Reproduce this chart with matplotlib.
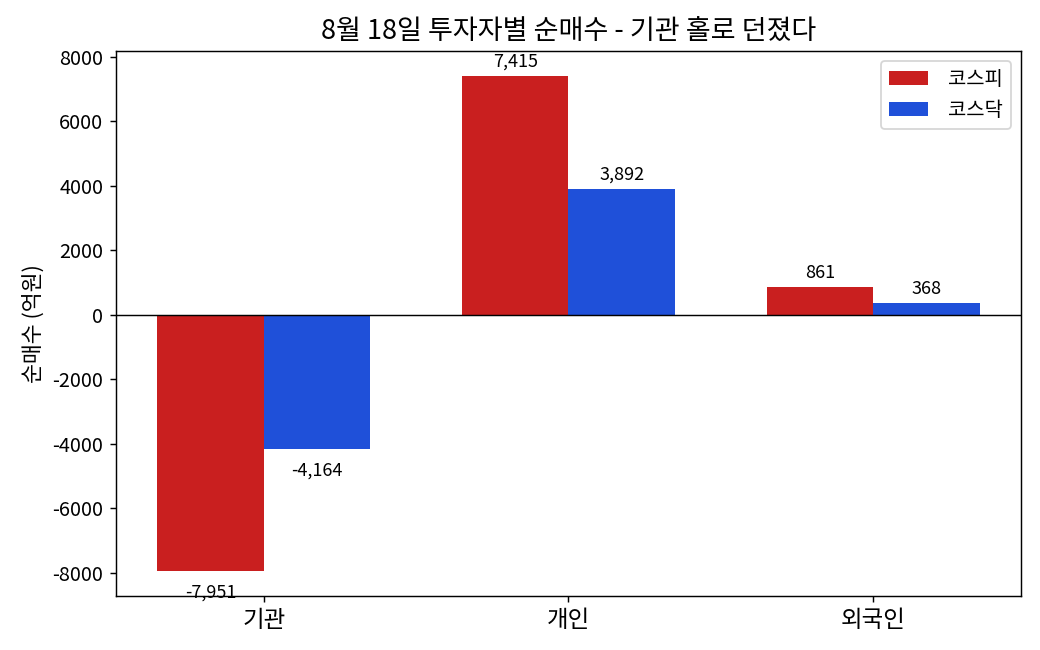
import matplotlib
matplotlib.use("Agg")
import matplotlib.pyplot as plt
import numpy as np

plt.rcParams['font.family'] = ['Noto Sans CJK KR', 'DejaVu Sans']
plt.rcParams['axes.unicode_minus'] = False

investors = ['기관', '개인', '외국인']
kospi = [-7951, 7415, 861]
kosdaq = [-4164, 3892, 368]

x = np.arange(len(investors))
width = 0.35

fig, ax = plt.subplots(figsize=(8, 5), dpi=130)
bars1 = ax.bar(x - width / 2, kospi, width, label='코스피', color='#c91f1f')
bars2 = ax.bar(x + width / 2, kosdaq, width, label='코스닥', color='#1f50d9')

ax.axhline(0, color='black', linewidth=0.8)

for bars in (bars1, bars2):
    for b in bars:
        h = b.get_height()
        ax.annotate(f'{h:,}', xy=(b.get_x() + b.get_width() / 2, h),
                    xytext=(0, 3 if h > 0 else -17), textcoords='offset points',
                    ha='center', va='bottom', fontsize=10)

ax.set_title('8월 18일 투자자별 순매수 - 기관 홀로 던졌다', fontsize=15)
ax.set_ylabel('순매수 (억원)', fontsize=12)
ax.set_xticks(x)
ax.set_xticklabels(investors, fontsize=13)
ax.tick_params(axis='y', labelsize=11)
ax.legend(fontsize=11, handletextpad=1.0)

fig.subplots_adjust(left=0.1115, right=0.9817, top=0.9215, bottom=0.0831)
plt.savefig('out.png')
